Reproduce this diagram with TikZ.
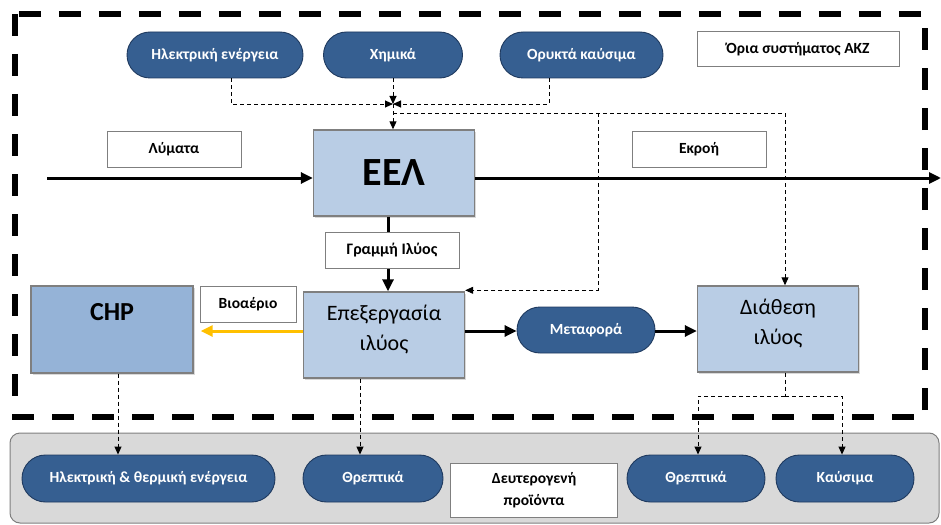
\documentclass[tikz,border=0pt]{standalone}
\usepackage{fontspec}
\setmainfont{Carlito}
\usetikzlibrary{shapes.misc,arrows.meta,shadows,calc}

\definecolor{pillblue}{HTML}{365F91}
\definecolor{pilledge}{HTML}{1F3A5F}
\definecolor{boxlight}{HTML}{B9CDE5}
\definecolor{boxmid}{HTML}{95B3D7}
\definecolor{boxedge}{HTML}{7F7F7F}
\definecolor{panelgray}{HTML}{D9D9D9}
\definecolor{gasyellow}{HTML}{FFC000}

\tikzset{
  pill/.style={rounded rectangle, draw=pilledge, line width=0.9pt, fill=pillblue,
    text=white, font=\fontsize{15.5}{18}\selectfont\bfseries, minimum height=46pt, inner sep=0pt},
  tag/.style={rectangle, draw=boxedge, line width=1pt, fill=white,
    font=\fontsize{15.5}{19}\selectfont\bfseries, minimum height=36pt, inner sep=0pt, align=center},
  unitbox/.style={rectangle, draw=boxedge, line width=1.4pt, fill=boxlight,
    minimum width=161pt, minimum height=86pt, inner sep=0pt, align=center,
    font=\fontsize{22}{30}\selectfont,
    drop shadow={shadow xshift=1.5pt, shadow yshift=-1.5pt, opacity=0.3}},
  twoline/.style={text depth=14pt},
  dline/.style={draw=black, line width=0.9pt, dash pattern=on 4pt off 3pt,
    -{Triangle[length=8pt,width=7pt]}},
  fline/.style={draw=black, line width=3pt, -{Triangle[length=12pt,width=11pt]}},
  yline/.style={draw=gasyellow, line width=3pt, -{Triangle[length=12pt,width=11pt]}},
  limit/.style={draw=black, line width=5.5pt, dash pattern=on 22pt off 18pt}
}

\begin{document}
\begin{tikzpicture}[x=1pt,y=-1pt]
\useasboundingbox (0,0) rectangle (941,524);

% secondary products panel
\path[fill=panelgray, draw=boxedge, line width=1pt, rounded corners=10pt]
  (10,433) rectangle (939,523);

% system boundary
\draw[limit] (15,14) rectangle (925,417);

% routing points
\coordinate (ax) at (231,0);
\coordinate (fx) at (549,0);
\coordinate (jn) at (393,104);
\coordinate (jb) at (393,113);
\coordinate (bx) at (598,0);
\coordinate (dx) at (785,0);
\coordinate (gx) at (388,0);
\coordinate (inlet) at (47,178);
\coordinate (outlet) at (941,178);
\coordinate (row) at (0,331);
\coordinate (cx) at (118,0);
\coordinate (nx) at (360,0);
\coordinate (split) at (785,396);
\coordinate (n2x) at (698,0);
\coordinate (kx) at (842,0);

% inputs
\node[pill, minimum width=176pt] (pelec) at (215,55) {Ηλεκτρική ενέργεια};
\node[pill, minimum width=139pt] (pchem) at (393,55) {Χημικά};
\node[pill, minimum width=163pt] (pfoss) at (581.5,55) {Ορυκτά καύσιμα};
\node[tag, minimum width=202pt, minimum height=35pt] (lim) at (798,49.5) {Όρια συστήματος ΑΚΖ};

% main units
\node[unitbox, font=\fontsize{40}{44}\selectfont\bfseries] (eel) at (394,173) {ΕΕΛ};
\node[unitbox, twoline] (proc) at (384,335) {Επεξεργασία\\ιλύος};
\node[unitbox, fill=boxmid, minimum width=162pt, minimum height=87pt] (chp) at (112,329.5) {};
\node[font=\fontsize{26}{30}\selectfont\bfseries] (chptext) at (112,312) {CHP};
\node[unitbox, twoline] (disp) at (778,329) {Διάθεση\\ιλύος};
\node[pill, minimum width=138pt] (trans) at (586,330) {Μεταφορά};

% flow labels
\node[tag, minimum width=134pt] (lym) at (174,149) {Λύματα};
\node[tag, minimum width=134pt] (ekr) at (699,149) {Εκροή};
\node[tag, minimum width=96pt] (bio) at (248,304) {Βιοαέριο};

% secondary products
\node[pill, minimum width=253pt, minimum height=47pt] (pheat) at (148.5,478.5) {Ηλεκτρική \& θερμική ενέργεια};
\node[pill, minimum width=140pt, minimum height=47pt] (pnut1) at (373,478.5) {Θρεπτικά};
\node[tag, minimum width=167pt, minimum height=54pt, font=\fontsize{15.5}{22}\selectfont\bfseries] (sec) at (534,490) {Δευτερογενή\\προϊόντα};
\node[pill, minimum width=138pt, minimum height=47pt] (pnut2) at (696,478.5) {Θρεπτικά};
\node[pill, minimum width=138pt, minimum height=47pt] (pfuel) at (845,478.5) {Καύσιμα};

% auxiliary inputs to the plant
\draw[dline] (pelec.south -| ax) |- (jn);
\draw[dline] (pchem.south -| jn) -- (jn);
\draw[dline] (pfoss.south -| fx) |- (jn);
\draw[dline] (jn) -- (eel.north -| jn);
\draw[dline] (jb) -| (disp.north -| dx);
\draw[dline] (jb -| bx) |- ($(proc.north east)+(0,-1)$);

% wastewater line
\draw[fline] (inlet) -- (inlet -| eel.west);
\draw[fline] (eel.east |- inlet) -- (outlet);

% sludge line
\draw[fline] (eel.south -| gx) -- (proc.north -| gx);
\node[tag, minimum width=134pt, font=\fontsize{16}{19}\selectfont\bfseries] (gram) at (392,250) {Γραμμή Ιλύος};

\draw[yline] (proc.west |- row) -- ($(chp.east |- row)+(7,0)$);
\draw[fline] (proc.east |- row) -- (trans.west |- row);
\draw[fline] (trans.east |- row) -- (disp.west |- row);

% products
\draw[dline] (chp.south -| cx) -- (pheat.north -| cx);
\draw[dline] (proc.south -| nx) -- (pnut1.north -| nx);
\draw[line width=0.9pt, dash pattern=on 4pt off 3pt] (disp.south -| dx) -- (split);
\draw[dline] (split) -| (pnut2.north -| n2x);
\draw[dline] (split) -| (pfuel.north -| kx);
\end{tikzpicture}
\end{document}
